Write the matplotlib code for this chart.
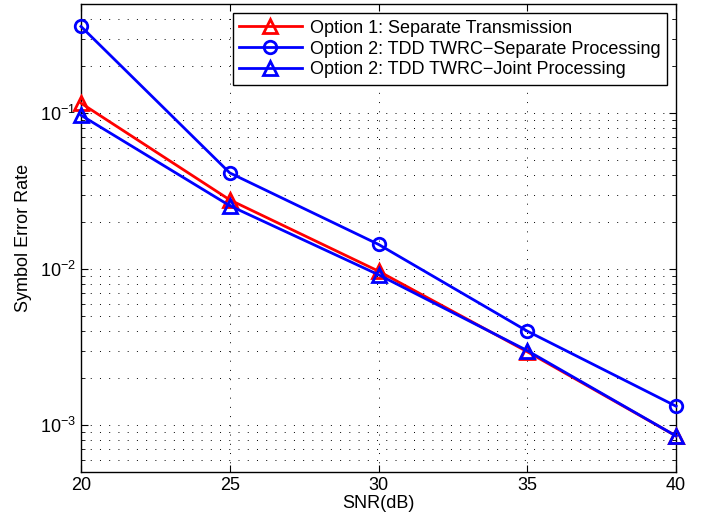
import matplotlib
matplotlib.use('Agg')
import matplotlib.pyplot as plt
from matplotlib.ticker import LogLocator, NullFormatter

plt.rcParams['font.family'] = ['Liberation Sans', 'DejaVu Sans']
plt.rcParams['font.size'] = 13
plt.rcParams['axes.unicode_minus'] = True

# SNR 值
snr = [20, 25, 30, 35, 40]
# 三种方案的误符号率
ser_opt1 = [0.116, 0.0278, 0.0097, 0.00295, 0.00085]
ser_opt2_sep = [0.36, 0.0414, 0.0144, 0.0040, 0.00132]
ser_opt2_joint = [0.097, 0.0255, 0.0092, 0.0030, 0.00085]

labels = ['Option 1: Separate Transmission',
          'Option 2: TDD TWRC\u2212Separate Processing',
          'Option 2: TDD TWRC\u2212Joint Processing']


def main():
    fig = plt.figure(figsize=(7.06, 5.25), dpi=100)
    ax = fig.add_axes([0.1147, 0.101, 0.843, 0.891])

    kw = dict(lw=2, mew=2, mfc='none', clip_on=False, zorder=3)
    ax.semilogy(snr, ser_opt1, 'r-^', ms=10, label=labels[0], **kw)
    ax.semilogy(snr, ser_opt2_sep, 'b-o', ms=9, label=labels[1], **kw)
    ax.semilogy(snr, ser_opt2_joint, 'b-^', ms=10, label=labels[2], **kw)

    ax.set_xlim(20, 40)
    ax.set_ylim(5e-4, 0.5)
    ax.set_xticks([20, 25, 30, 35, 40])
    ax.yaxis.set_major_locator(LogLocator(base=10, numticks=10))
    ax.yaxis.set_minor_locator(LogLocator(base=10, subs=range(2, 10), numticks=20))
    ax.yaxis.set_minor_formatter(NullFormatter())

    # MATLAB 风格的网格和刻度（稀疏点线）
    dots = (0, (1, 8.5))
    ax.grid(True, which='major', linestyle=dots, color='k', lw=0.7)
    ax.grid(True, which='minor', axis='y', linestyle=dots, color='k', lw=0.7)
    ax.set_axisbelow(True)
    ax.tick_params(which='both', direction='in', top=True, right=True)
    ax.tick_params(which='major', length=5)
    ax.tick_params(which='minor', length=3)
    for s in ax.spines.values():
        s.set_linewidth(1.0)

    ax.set_xlabel('SNR(dB)', labelpad=1)
    ax.set_ylabel('Symbol Error Rate', labelpad=6)

    leg = ax.legend(loc='upper right', fancybox=False, framealpha=1, edgecolor='k',
                    handlelength=3.5, handletextpad=0.45, labelspacing=0.22,
                    borderaxespad=0.5, borderpad=0.35)
    leg.get_frame().set_linewidth(1.0)
    leg.set_zorder(5)

    fig.savefig('out.png', dpi=100)


if __name__ == '__main__':
    main()
